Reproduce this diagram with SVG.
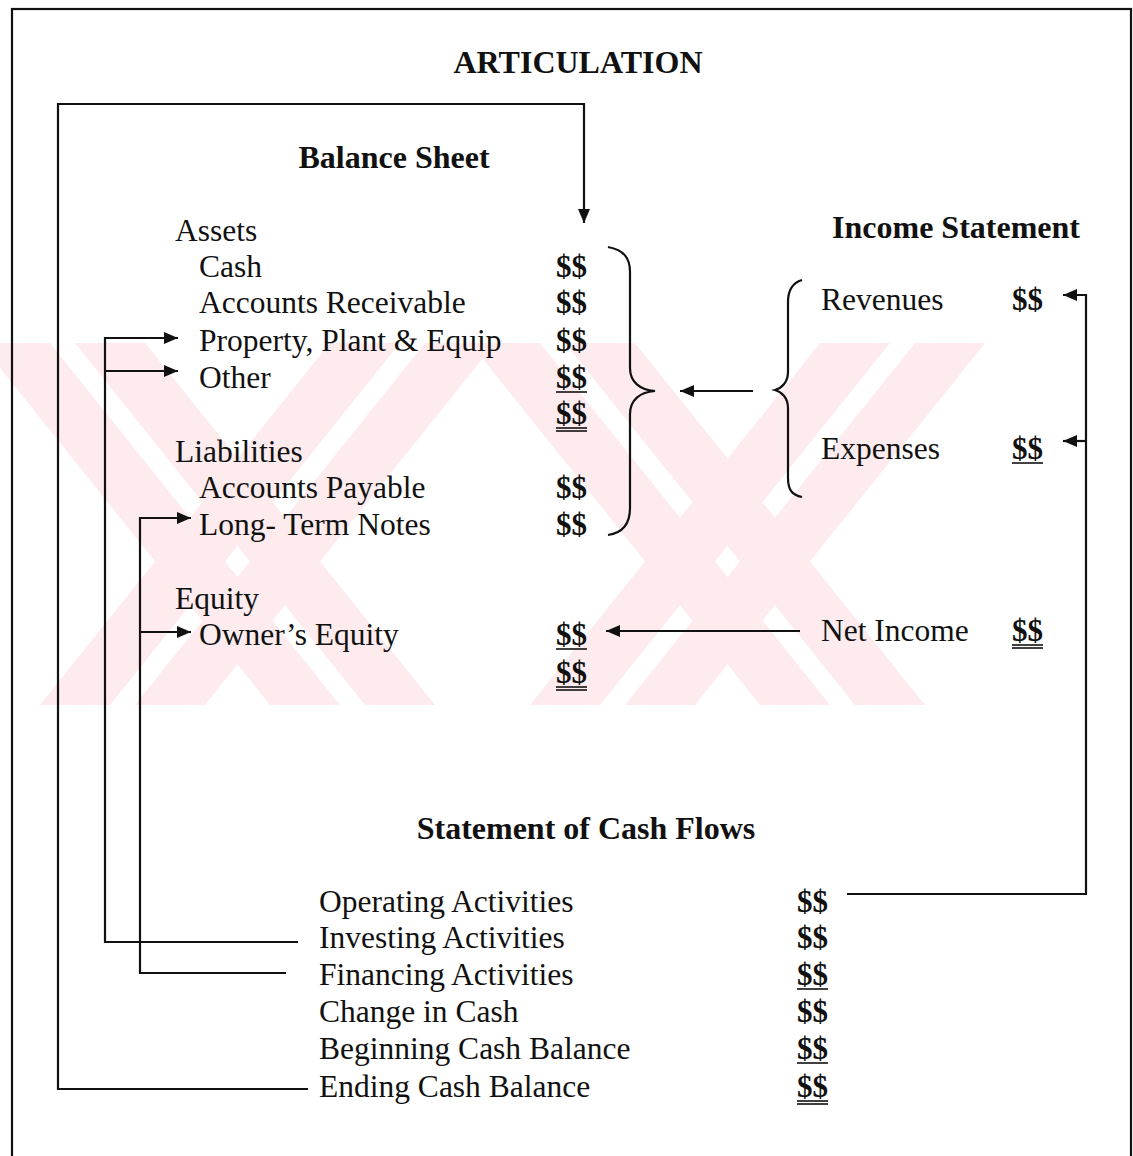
<svg xmlns="http://www.w3.org/2000/svg" width="1133" height="1156" viewBox="0 0 1133 1156">
<defs>
<style>
.t{font-family:"Liberation Serif","Times New Roman",serif;font-size:31.5px;fill:#111}
.h{font-family:"Liberation Serif","Times New Roman",serif;font-size:32px;font-weight:bold;fill:#111}
.d{font-family:"Liberation Serif","Times New Roman",serif;font-size:31px;font-weight:bold;fill:#111}
.ln{stroke:#111;stroke-width:2.2;fill:none}
.ul{stroke:#111;stroke-width:1.6}
.wm{fill:#fdebee}
</style>
<marker id="ah" viewBox="0 0 14 12" refX="14" refY="6" markerWidth="14" markerHeight="12" markerUnits="userSpaceOnUse" orient="auto">
<path d="M0,0 L14,6 L0,12 Z" fill="#111"/>
</marker>
<clipPath id="band"><rect x="0" y="343" width="985" height="362"/></clipPath>
</defs>
<rect width="1133" height="1156" fill="#fff"/>
<g id="watermark" clip-path="url(#band)">
<polygon class="wm" points="-20,343 50,343 340,705 270,705"/>
<polygon class="wm" points="75,343 145,343 435,705 365,705"/>
<polygon class="wm" points="330,343 400,343 110,705 40,705"/>
<polygon class="wm" points="425,343 495,343 205,705 135,705"/>
<polygon class="wm" points="470,343 540,343 830,705 760,705"/>
<polygon class="wm" points="565,343 635,343 925,705 855,705"/>
<polygon class="wm" points="820,343 890,343 600,705 530,705"/>
<polygon class="wm" points="915,343 985,343 695,705 625,705"/>
</g>
<rect id="frame" x="12" y="9" width="1119" height="1160" class="ln"/>
<g id="titles">
<text class="h" x="578" y="73" text-anchor="middle">ARTICULATION</text>
<text class="h" x="394" y="168" text-anchor="middle">Balance Sheet</text>
<text class="h" x="956" y="238" text-anchor="middle">Income Statement</text>
<text class="h" x="586" y="839" text-anchor="middle">Statement of Cash Flows</text>
</g>
<g id="balance-sheet">
<text class="t" x="175" y="241">Assets</text>
<text class="t" x="199" y="277">Cash</text>
<text class="t" x="199" y="313">Accounts Receivable</text>
<text class="t" x="199" y="351">Property, Plant &amp; Equip</text>
<text class="t" x="199" y="388">Other</text>
<text class="t" x="175" y="462">Liabilities</text>
<text class="t" x="199" y="498">Accounts Payable</text>
<text class="t" x="199" y="535">Long- Term Notes</text>
<text class="t" x="175" y="609">Equity</text>
<text class="t" x="199" y="645">Owner’s Equity</text>
<text class="d" x="556" y="277">$$</text>
<text class="d" x="556" y="313">$$</text>
<text class="d" x="556" y="351">$$</text>
<text class="d" x="556" y="388">$$</text>
<line class="ul" x1="556" y1="392" x2="587" y2="392"/>
<text class="d" x="556" y="424">$$</text>
<line class="ul" x1="556" y1="428" x2="587" y2="428"/>
<line class="ul" x1="556" y1="431" x2="587" y2="431"/>
<text class="d" x="556" y="498">$$</text>
<text class="d" x="556" y="535">$$</text>
<text class="d" x="556" y="645">$$</text>
<line class="ul" x1="556" y1="649" x2="587" y2="649"/>
<text class="d" x="556" y="683">$$</text>
<line class="ul" x1="556" y1="687" x2="587" y2="687"/>
<line class="ul" x1="556" y1="690" x2="587" y2="690"/>
</g>
<g id="income-statement">
<text class="t" x="821" y="310">Revenues</text>
<text class="d" x="1012" y="310">$$</text>
<text class="t" x="821" y="459">Expenses</text>
<text class="d" x="1012" y="459">$$</text>
<line class="ul" x1="1012" y1="463" x2="1043" y2="463"/>
<text class="t" x="821" y="641">Net Income</text>
<text class="d" x="1012" y="641">$$</text>
<line class="ul" x1="1012" y1="645" x2="1043" y2="645"/>
<line class="ul" x1="1012" y1="648" x2="1043" y2="648"/>
</g>
<g id="cash-flows">
<text class="t" x="319" y="912">Operating Activities</text>
<text class="t" x="319" y="948">Investing Activities</text>
<text class="t" x="319" y="985">Financing Activities</text>
<text class="t" x="319" y="1022">Change in Cash</text>
<text class="t" x="319" y="1059">Beginning Cash Balance</text>
<text class="t" x="319" y="1097">Ending Cash Balance</text>
<text class="d" x="797" y="912">$$</text>
<text class="d" x="797" y="948">$$</text>
<text class="d" x="797" y="985">$$</text>
<line class="ul" x1="797" y1="989" x2="828" y2="989"/>
<text class="d" x="797" y="1022">$$</text>
<text class="d" x="797" y="1059">$$</text>
<line class="ul" x1="797" y1="1063" x2="828" y2="1063"/>
<text class="d" x="797" y="1097">$$</text>
<line class="ul" x1="797" y1="1101" x2="828" y2="1101"/>
<line class="ul" x1="797" y1="1104" x2="828" y2="1104"/>
</g>
<g id="connectors">
<path class="ln" d="M608,247 C624,250 630,258 630,272 L630,368 C630,382 640,390 655,391 C640,392 630,400 630,414 L630,508 C630,524 622,533 608,535"/>
<path class="ln" d="M802,280 C792,283 788,290 788,302 L788,372 C788,382 782,388 775,390 C782,392 788,398 788,408 L788,478 C788,490 792,495 802,497"/>
<line class="ln" x1="753" y1="391" x2="680" y2="391" marker-end="url(#ah)"/>
<line class="ln" x1="800" y1="631" x2="606" y2="631" marker-end="url(#ah)"/>
<polyline class="ln" points="308,1089 58,1089 58,104 584,104 584,223" marker-end="url(#ah)"/>
<polyline class="ln" points="298,942 105,942 105,338 178,338" marker-end="url(#ah)"/>
<line class="ln" x1="105" y1="371" x2="178" y2="371" marker-end="url(#ah)"/>
<polyline class="ln" points="286,973 140,973 140,518 191,518" marker-end="url(#ah)"/>
<line class="ln" x1="140" y1="632" x2="191" y2="632" marker-end="url(#ah)"/>
<polyline class="ln" points="847,894 1086,894 1086,295 1063,295" marker-end="url(#ah)"/>
<line class="ln" x1="1086" y1="441" x2="1063" y2="441" marker-end="url(#ah)"/>
</g>
</svg>
